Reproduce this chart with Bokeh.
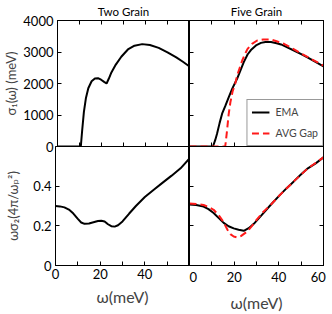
from bokeh.plotting import figure
from bokeh.layouts import column, row
from bokeh.models import FixedTicker, LinearAxis, Range1d
from bokeh.embed import file_html
from bokeh.resources import INLINE

# ---------------- data ----------------
two_w_s1 = [0, 10.6, 11.2, 12.0, 12.9, 14.0, 15.5, 17.0, 18.4, 19.8, 21.2, 22.3, 23.3, 24.5,
            26.5, 29, 32, 35, 38.5, 42, 46, 50, 54, 57, 60]
two_s1 = [0, 0, 500, 1100, 1530, 1850, 2070, 2160, 2170, 2120, 2050, 2000, 2150, 2350,
          2600, 2850, 3080, 3200, 3250, 3220, 3130, 2990, 2830, 2690, 2540]

two_w_s2 = [0, 2, 4, 6, 8, 10, 11.5, 13, 15, 17, 19, 20.5, 22, 23.5, 25, 26.5, 28, 30, 33,
            36, 40, 44, 48, 52, 56, 60]
two_s2 = [0.300, 0.298, 0.293, 0.282, 0.262, 0.235, 0.217, 0.210, 0.212, 0.218, 0.224, 0.226,
          0.222, 0.208, 0.198, 0.196, 0.203, 0.222, 0.262, 0.300, 0.345, 0.382, 0.418, 0.453,
          0.490, 0.540]

five_w_ema_s1 = [0, 10.5, 11.5, 12.3, 13.5, 14.6, 16, 17.5, 19.1, 21.3, 23, 24.3, 26, 27.5, 30,
                 32, 34, 36.5, 39, 41, 44, 47, 50, 53, 56, 60]
five_ema_s1 = [0, 0, 200, 400, 750, 1040, 1280, 1550, 1830, 2150, 2450, 2680, 2920, 3060, 3220,
               3290, 3320, 3320, 3280, 3240, 3140, 3040, 2930, 2820, 2700, 2540]

five_w_avg_s1 = [0, 16, 16.8, 17.5, 18.3, 19.3, 20.5, 21.3, 22.5, 23.6, 25, 26, 28, 30.3, 33,
                 36.3, 39, 42.3, 46, 49.8, 55, 60]
five_avg_s1 = [0, 0, 500, 1000, 1400, 1750, 2000, 2250, 2500, 2730, 2960, 3100, 3260, 3365, 3400,
               3400, 3340, 3260, 3120, 2960, 2760, 2570]

five_w_ema_s2 = [0, 3, 6.3, 8.5, 10.8, 13, 15.3, 17.5, 19.8, 22, 24.3, 26.5, 28.8, 32, 36.3, 40,
                 43.5, 46.7, 50, 53, 56.5, 60]
five_ema_s2 = [0.308, 0.305, 0.297, 0.284, 0.265, 0.240, 0.215, 0.198, 0.187, 0.180, 0.175, 0.188,
               0.210, 0.250, 0.305, 0.350, 0.390, 0.424, 0.460, 0.490, 0.515, 0.545]

five_w_avg_s2 = [0, 3, 6.3, 8.5, 10.8, 13, 15.3, 17, 18.3, 19.8, 21.3, 23, 25.8, 28, 30.3, 33,
                 36.3, 40, 46.7, 53, 60]
five_avg_s2 = [0.313, 0.310, 0.305, 0.295, 0.281, 0.255, 0.218, 0.180, 0.158, 0.146, 0.142, 0.148,
               0.171, 0.200, 0.234, 0.270, 0.305, 0.350, 0.424, 0.490, 0.545]

x_ticks_left = [0, 20, 40]
x_ticks_right = [0, 20, 40, 60]
x_minor = [10, 30, 50]
x_all = [0, 10, 20, 30, 40, 50, 60]
s1_ticks = [0, 1000, 2000, 3000, 4000]
s2_ticks = [0, 0.2, 0.4]
s2_all = [0, 0.2, 0.4, 0.6]

titles = ["Two Grain", "Five Grain"]
ylabel_top = "σ₁(ω) (meV)"
ylabel_bot = "ωσ₂(4π/ωₚ²)"
xlabel = "ω(meV)"

FONT = "Lato, DejaVu Sans"
TICK_FS = "13px"

TOP = 19
FRAME_H = 127
OVER = 7
BOT = 41
LEFT = 55
W_LEFT = 189
W_RIGHT = 143
RIGHT = 9


def make(width, height, yr, mbl, mbr, mbt, mbb, title=None):
    kw = dict(width=width, height=height, x_range=Range1d(0, 60), y_range=Range1d(*yr),
              output_backend="svg", toolbar_location=None,
              min_border_left=mbl, min_border_right=mbr, min_border_top=mbt,
              min_border_bottom=mbb)
    if title:
        kw["title"] = title
    p = figure(**kw)
    p.xgrid.visible = False
    p.ygrid.visible = False
    p.outline_line_color = "black"
    p.outline_line_width = 1
    p.outline_line_alpha = 1
    p.background_fill_color = None
    p.border_fill_color = None
    if title:
        p.title.align = "center"
        p.title.text_font = FONT
        p.title.text_font_size = "11.5px"
        p.title.text_font_style = "normal"
        p.title.text_color = "black"
        p.title.standoff = 5
    return p


def style_labeled(ax, ticks, minor, overrides=None):
    ax.ticker = FixedTicker(ticks=ticks, minor_ticks=minor)
    ax.major_tick_in = 4
    ax.major_tick_out = 0
    ax.minor_tick_in = 4
    ax.minor_tick_out = 0
    ax.axis_line_color = "black"
    ax.major_tick_line_color = "black"
    ax.minor_tick_line_color = "black"
    ax.major_label_text_font = FONT
    ax.major_label_text_font_size = TICK_FS
    ax.major_label_text_color = "black"
    if overrides:
        ax.major_label_overrides = overrides


def style_plain(ax, positions):
    # tick marks only (drawn as minor ticks, so no labels exist)
    ax.ticker = FixedTicker(ticks=[], minor_ticks=positions)
    ax.major_tick_in = 0
    ax.major_tick_out = 0
    ax.minor_tick_in = 4
    ax.minor_tick_out = 0
    ax.major_label_standoff = 0
    ax.axis_line_color = "black"
    ax.minor_tick_line_color = "black"


p1 = make(W_LEFT, TOP + FRAME_H + OVER, (0, 4000), LEFT, 0, TOP, OVER, titles[0])
p2 = make(W_RIGHT, TOP + FRAME_H + OVER, (0, 4000), 0, RIGHT, TOP, OVER, titles[1])
p3 = make(W_LEFT, FRAME_H + BOT, (0, 0.6), LEFT, 0, 0, BOT)
p4 = make(W_RIGHT, FRAME_H + BOT, (0, 0.6), 0, RIGHT, 0, BOT)

# x axes
style_plain(p1.xaxis[0], x_all)
style_plain(p2.xaxis[0], x_all)
style_labeled(p3.xaxis[0], x_ticks_left, x_minor)
style_labeled(p4.xaxis[0], x_ticks_right, x_minor, {60: "60\u00a0\u00a0"})
for p in (p3, p4):
    ax = p.xaxis[0]
    ax.axis_label = xlabel
    ax.axis_label_text_font = FONT
    ax.axis_label_text_font_size = "16px"
    ax.axis_label_text_font_style = "normal"
    ax.axis_label_standoff = 5
    ax.major_label_standoff = 3

for p in (p1, p2):
    top = LinearAxis()
    style_plain(top, x_all)
    p.add_layout(top, "above")

# y axes
style_labeled(p1.yaxis[0], s1_ticks, [])
style_labeled(p3.yaxis[0], s2_ticks, [])
style_plain(p2.yaxis[0], s1_ticks)
style_plain(p4.yaxis[0], s2_all)
# keep the "0" of the upper panel above the shared edge so it stays visible
p1.yaxis[0].major_label_text_baseline = "alphabetic"
p1.yaxis[0].axis_label = ylabel_top
p3.yaxis[0].axis_label = ylabel_bot
for p, so in ((p1, 1), (p3, 9)):
    ax = p.yaxis[0]
    ax.axis_label_text_font = FONT
    ax.axis_label_text_font_size = "13px"
    ax.axis_label_text_font_style = "normal"
    ax.axis_label_standoff = so
    ax.major_label_standoff = 4

for p, t in ((p2, s1_ticks), (p4, s2_all)):
    right = LinearAxis()
    style_plain(right, t)
    p.add_layout(right, "right")

# curves
p1.line(two_w_s1, two_s1, line_color="black", line_width=2)
p3.line(two_w_s2, two_s2, line_color="black", line_width=2)

p2.line(five_w_ema_s1, five_ema_s1, line_color="black", line_width=2, legend_label="EMA")
p2.line(five_w_avg_s1, five_avg_s1, line_color="#ff1a1a", line_width=2, line_dash="7 4",
        legend_label="AVG Gap")
p4.line(five_w_ema_s2, five_ema_s2, line_color="black", line_width=2)
p4.line(five_w_avg_s2, five_avg_s2, line_color="#ff1a1a", line_width=2, line_dash="7 4")

lg = p2.legend[0]
lg.location = "bottom_right"
lg.margin = 0
lg.padding = 4
lg.spacing = 5
lg.glyph_width = 18
lg.glyph_height = 16
lg.label_height = 16
lg.label_standoff = 6
lg.label_text_font = FONT
lg.label_text_font_size = "10.5px"
lg.border_line_color = "#333333"
lg.border_line_width = 1.5
lg.background_fill_color = "white"
lg.background_fill_alpha = 1

for p in (p1, p2):
    p.styles = {"position": "relative", "z-index": "2"}
for p in (p3, p4):
    p.styles = {"position": "relative", "z-index": "1"}

top_row = row(p1, p2)
top_row.styles = {"position": "relative", "z-index": "2"}
bot_row = row(p3, p4)
bot_row.styles = {"margin-top": f"-{OVER}px", "position": "relative", "z-index": "1"}
layout = column(top_row, bot_row)

open("out.html", "w").write(file_html(layout, INLINE))
